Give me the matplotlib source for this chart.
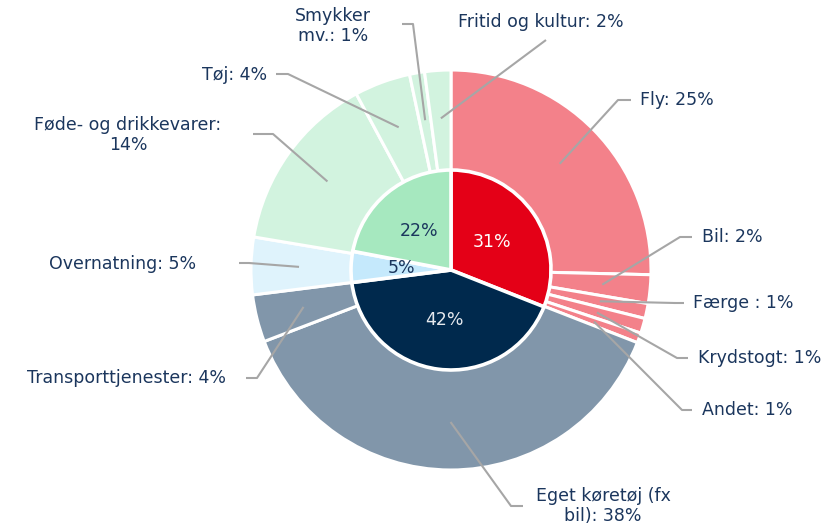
import matplotlib.pyplot as plt
import numpy as np

# outer ring: estimated shares (angles) and the rounded percent shown in labels
outer_names = ['Fly', 'Bil', 'Færge ', 'Krydstogt', 'Andet',
               'Eget køretøj (fx\nbil)', 'Transporttjenester', 'Overnatning',
               'Føde- og drikkevarer:\n', 'Tøj', 'Smykker\nmv.', 'Fritid og kultur']
outer_share = [25.2, 2.3, 1.2, 1.2, 0.8, 38.0, 3.8, 4.6, 14.4, 4.5, 1.2, 2.1]
outer_pct = [25, 2, 1, 1, 1, 38, 4, 5, 14, 4, 1, 2]
outer_colors = ['#F3818A'] * 5 + ['#8196AA'] * 2 + ['#DFF3FC'] + ['#D2F3DF'] * 4

# inner pie
inner_values = [31, 42, 5, 22]
inner_colors = ['#E40017', '#00294D', '#C5E9FC', '#A6E8BF']
inner_text = ['#FFFFFF', '#E6E9EE', '#1B365D', '#1B365D']

# label placement (data units, radius 1 = outer edge): text x, text y, alignment, line end x, elbow x
label_pos = [
    (0.945, 0.85, 'left', 0.90, 0.835),
    (1.255, 0.165, 'left', 1.205, 1.145),
    (1.21, -0.165, 'left', 1.165, 1.12),
    (1.235, -0.44, 'left', 1.185, 1.13),
    (1.255, -0.70, 'left', 1.205, 1.155),
    (0.76, -1.18, 'center', 0.36, 0.30),
    (-1.125, -0.54, 'right', -1.025, -0.97),
    (-1.275, 0.03, 'right', -1.06, -1.01),
    (-1.615, 0.675, 'center', -0.99, -0.89),
    (-0.92, 0.975, 'right', -0.875, -0.815),
    (-0.59, 1.22, 'center', -0.245, -0.19),
    (0.035, 1.24, 'left', 0.475, 0.475),
]
line_y = [0.85, 0.165, -0.165, -0.44, -0.70, -1.18, -0.54, 0.035, 0.68, 0.98, 1.23, 1.15]

navy = '#1B365D'
grey = '#A6A6A6'

fig = plt.figure(figsize=(8.23, 5.3), dpi=100)
ax = fig.add_axes([0, 0, 1, 1])

wedges, _ = ax.pie(outer_share, radius=1.0, colors=outer_colors, startangle=90,
                   counterclock=False,
                   wedgeprops=dict(edgecolor='white', linewidth=2.2))
_, _, autotexts = ax.pie(inner_values, radius=0.5, colors=inner_colors, startangle=90,
                         counterclock=False, autopct='%d%%', pctdistance=0.5,
                         textprops=dict(fontsize=12.5),
                         wedgeprops=dict(edgecolor='white', linewidth=2.6))
for t, c in zip(autotexts, inner_text):
    t.set_color(c)

for i, w in enumerate(wedges):
    ang = np.deg2rad((w.theta1 + w.theta2) / 2)
    sx, sy = 0.76 * np.cos(ang), 0.76 * np.sin(ang)
    tx, ty, ha, ex, elx = label_pos[i]
    ax.plot([sx, elx, ex], [sy, line_y[i], line_y[i]], color=grey, lw=1.5,
            solid_capstyle='butt', zorder=5)
    name = outer_names[i]
    if name.endswith('\n'):
        txt = name + '%d%%' % outer_pct[i]
    else:
        txt = '%s: %d%%' % (name, outer_pct[i])
    ax.text(tx, ty, txt, ha=ha, va='center', multialignment='center',
            color=navy, fontsize=12.5, linespacing=1.15)

ax.set_xlim(-451 / 200, (823 - 451) / 200)
ax.set_ylim(-(530 - 270) / 200, 270 / 200)
ax.set_aspect('equal')
ax.axis('off')

fig.savefig('out.png', dpi=100)
